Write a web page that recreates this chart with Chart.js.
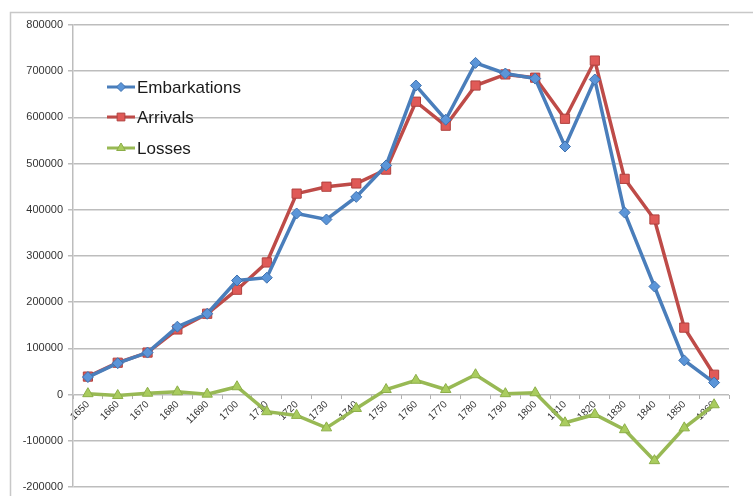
<!DOCTYPE html>
<html>
<head>
<meta charset="utf-8">
<title>Slave trade by decade</title>
<script src="https://cdn.jsdelivr.net/npm/chart.js@4/dist/chart.umd.min.js"></script>
<style>
  html, body { margin: 0; padding: 0; background: #fff; }
  #wrap { width: 753px; height: 496px; }
</style>
</head>
<body>
<div id="wrap"><canvas id="tradeChart"></canvas></div>
<script>
// Decades (the 11690 label is kept as it appears in the source sheet)
var decades = ['1650', '1660', '1670', '1680', '11690', '1700', '1710', '1720', '1730', '1740', '1750',
               '1760', '1770', '1780', '1790', '1800', '1810', '1820', '1830', '1840', '1850', '1860'];

var embarkations = [38000, 68000, 91000, 147000, 175000, 247000, 253000, 392000, 379000, 428000, 496000,
                    669000, 595000, 718000, 695000, 684000, 537000, 682000, 394000, 234000, 74000, 26000];

var arrivals = [39000, 69000, 91000, 141000, 175000, 227000, 286000, 435000, 450000, 457000, 487000,
                634000, 582000, 669000, 693000, 686000, 597000, 723000, 467000, 379000, 145000, 43000];

var losses = [2000, -2000, 3000, 6000, 1000, 17000, -37000, -45000, -72000, -30000, 11000,
              31000, 11000, 43000, 2000, 4000, -61000, -43000, -76000, -143000, -72000, -22000];

var yTicks = [-200000, -100000, 0, 100000, 200000, 300000, 400000, 500000, 600000, 700000, 800000];

// white page with a thin frame running off the right and bottom edges
var framePlugin = {
    id: 'frame',
    beforeDraw: function (chart) {
        var ctx = chart.ctx;
        ctx.save();
        ctx.fillStyle = '#ffffff';
        ctx.fillRect(0, 0, chart.width, chart.height);
        ctx.strokeStyle = '#c8c8c8';
        ctx.lineWidth = 1.5;
        ctx.strokeRect(10.5, 12.5, 900, 700);
        ctx.restore();
    }
};

// legend drawn inside the plot, upper left
var innerLegend = {
    id: 'innerLegend',
    afterDatasetsDraw: function (chart) {
        var ctx = chart.ctx;
        var rows = [87, 117, 148];
        ctx.save();
        chart.data.datasets.forEach(function (ds, i) {
            var y = rows[i];
            ctx.strokeStyle = ds.borderColor;
            ctx.lineWidth = 3;
            ctx.beginPath();
            ctx.moveTo(107, y);
            ctx.lineTo(135, y);
            ctx.stroke();
            ctx.fillStyle = ds.pointBackgroundColor;
            ctx.strokeStyle = ds.pointBorderColor;
            ctx.lineWidth = 1;
            Chart.helpers.drawPoint(ctx, {
                pointStyle: ds.pointStyle, radius: ds.pointRadius - 1, rotation: 0, borderWidth: 1
            }, 121, y);
            ctx.fillStyle = '#1a1a1a';
            ctx.font = '17px "Liberation Sans", Arial, sans-serif';
            ctx.textBaseline = 'middle';
            ctx.textAlign = 'left';
            ctx.fillText(ds.label, 137, y + 1);
        });
        ctx.restore();
    }
};

new Chart(document.getElementById('tradeChart'), {
    type: 'line',
    data: {
        labels: decades,
        datasets: [{
            label: 'Embarkations',
            data: embarkations,
            borderColor: '#4a7ebb',
            borderWidth: 3.5,
            pointStyle: 'rectRot',
            pointRadius: 5.5,
            pointBackgroundColor: '#5b95d8',
            pointBorderColor: '#3f72b0',
            pointBorderWidth: 1,
            tension: 0
        }, {
            label: 'Arrivals',
            data: arrivals,
            borderColor: '#be4b48',
            borderWidth: 3.5,
            pointStyle: 'rect',
            pointRadius: 6.5,
            pointBackgroundColor: '#e05a57',
            pointBorderColor: '#b0413e',
            pointBorderWidth: 1,
            tension: 0
        }, {
            label: 'Losses',
            data: losses,
            borderColor: '#98b954',
            borderWidth: 3.5,
            pointStyle: 'triangle',
            pointRadius: 6,
            pointBackgroundColor: '#a9cc5e',
            pointBorderColor: '#8cae48',
            pointBorderWidth: 1,
            tension: 0
        }]
    },
    options: {
        responsive: true,
        maintainAspectRatio: false,
        animation: false,
        layout: { padding: { left: 10, top: 25, right: 24, bottom: 9 } },
        plugins: {
            legend: { display: false },
            tooltip: { enabled: false }
        },
        scales: {
            x: {
                position: { y: 0 },
                offset: true,
                grid: {
                    display: true,
                    drawOnChartArea: false,
                    drawTicks: true,
                    tickLength: 4,
                    offset: true,
                    color: '#b0b0b0'
                },
                border: { display: false },
                ticks: {
                    autoSkip: false,
                    minRotation: 45,
                    maxRotation: 45,
                    padding: 0,
                    color: '#333',
                    font: { family: '"Liberation Sans", Arial, sans-serif', size: 10 }
                },
                afterFit: function (scale) { scale.paddingBottom = 0; scale.paddingTop = 0; }
            },
            y: {
                min: -200000,
                max: 800000,
                afterFit: function (scale) {
                    scale.width = 63;
                    scale.paddingTop = 0;
                    scale.paddingBottom = 0;
                },
                afterBuildTicks: function (scale) {
                    scale.ticks = yTicks.map(function (v) { return { value: v }; });
                },
                grid: {
                    color: '#bdbdbd',
                    lineWidth: 1.5,
                    tickLength: 5
                },
                border: { color: '#bdbdbd', width: 1.5 },
                ticks: {
                    padding: 5,
                    color: '#333',
                    font: { family: '"Liberation Sans", Arial, sans-serif', size: 11 },
                    callback: function (v) { return String(v); }
                }
            }
        }
    },
    plugins: [framePlugin, innerLegend]
});
</script>
</body>
</html>
